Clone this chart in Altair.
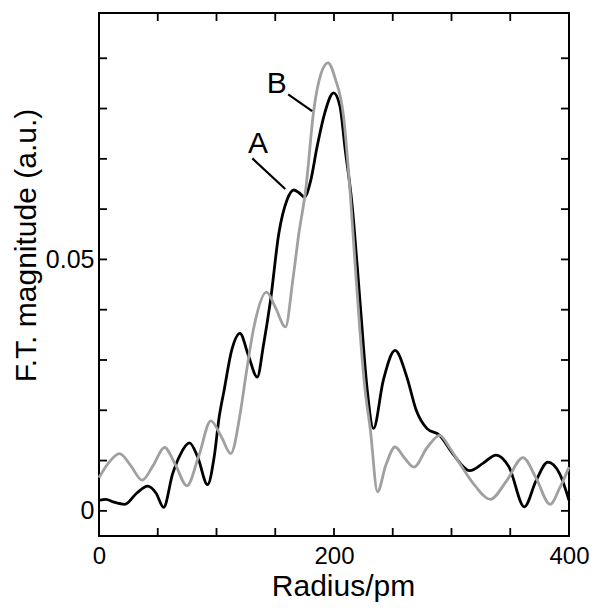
import altair as alt
import pandas as pd

# Curve A (black)
A_x = [0, 6, 12, 22, 32, 41.5, 48.6, 55, 62.7, 69, 77, 84, 92.4, 98, 102.3,
       106.5, 113, 120, 127, 134.7, 140, 146, 153, 160, 165.8, 170, 174.8, 180,
       185.6, 192, 199.7, 205, 209.6, 215.3, 220, 223, 228, 233.6, 242, 252,
       262, 270, 279, 290, 301, 315.5, 327, 338, 349, 362, 372, 382, 392, 400]
A_y = [0.0021, 0.0023, 0.0018, 0.0013, 0.0035, 0.0049, 0.0035, 0.0007, 0.0074,
       0.0111, 0.0135, 0.0107, 0.0052, 0.0107, 0.0187, 0.024, 0.032, 0.0353,
       0.031, 0.0266, 0.033, 0.0419, 0.0551, 0.0618, 0.0638, 0.0633, 0.0624,
       0.0655, 0.0724, 0.079, 0.0831, 0.0805, 0.0717, 0.0611, 0.048, 0.039,
       0.0247, 0.0164, 0.026, 0.0319, 0.0266, 0.020, 0.0164, 0.0150, 0.0114,
       0.008, 0.0095, 0.0111, 0.0087, 0.0008, 0.006, 0.0097, 0.0074, 0.0021]

# Curve B (gray)
B_x = [0, 8, 17.5, 27, 36.7, 46, 55.7, 65, 74.8, 85, 95.2, 104, 112.1, 120.6,
       124.8, 131.9, 142.6, 150, 158.7, 165, 170, 176, 182.8, 189, 194.9, 201,
       208.2, 213.8, 218, 222, 226, 231, 237, 244, 252, 260, 268, 279, 290, 298,
       307, 320, 333, 347, 360.8, 372, 383.9, 392, 400]
B_y = [0.0066, 0.0095, 0.0114, 0.009, 0.0061, 0.009, 0.0126, 0.0092, 0.005,
       0.011, 0.0179, 0.0148, 0.0114, 0.020, 0.0266, 0.0366, 0.0435, 0.0405,
       0.0366, 0.046, 0.055, 0.064, 0.0797, 0.087, 0.0891, 0.086, 0.0783,
       0.0631, 0.049, 0.036, 0.025, 0.016, 0.0038, 0.009, 0.0127, 0.0105,
       0.0087, 0.0125, 0.015, 0.0127, 0.0094, 0.005, 0.0023, 0.006, 0.0106,
       0.0065, 0.0013, 0.0045, 0.0087]

x_ticks = [0, 50, 100, 150, 200, 250, 300, 350, 400]
y_ticks = [0, 0.01, 0.02, 0.03, 0.04, 0.05, 0.06, 0.07, 0.08, 0.09]
x_labels = [0, 200, 400]
y_labels = [0, 0.05]

ann_labels = ["A", "B"]
ann_text_x = [135.4, 151.3]
ann_text_y = [0.0729, 0.0848]
ann_line_x = [130.5, 161.0]
ann_line_y = [0.0701, 0.0828]
ann_line_x2 = [158.5, 181.4]
ann_line_y2 = [0.0640, 0.0795]

W, H = 470, 523
FONT = "Liberation Sans"

xs = alt.Scale(domain=[0, 400], nice=False, zero=False)
ys = alt.Scale(domain=[-0.005, 0.099], nice=False, zero=False)

dfA = pd.DataFrame({"x": A_x, "y": A_y})
dfB = pd.DataFrame({"x": B_x, "y": B_y})

x_axis = alt.Axis(values=x_labels, ticks=False, domain=False, grid=False,
                  labelFontSize=24, labelFont=FONT, labelColor="black",
                  labelPadding=8, labelFlush=False,
                  title="Radius/pm", titleFont=FONT, titleFontSize=30,
                  titleFontWeight="normal", titleColor="black",
                  titleX=244, titleY=59, titleBaseline="alphabetic",
                  titleAlign="center")
y_axis = alt.Axis(values=y_labels, ticks=False, domain=False, grid=False,
                  format="~g",
                  labelFontSize=25, labelFont=FONT, labelColor="black",
                  labelPadding=5, labelFlush=False,
                  title="F.T. magnitude (a.u.)", titleFont=FONT,
                  titleFontSize=30, titleFontWeight="normal",
                  titleColor="black", titleAngle=270,
                  titleX=-64, titleY=232, titleBaseline="alphabetic",
                  titleAlign="center")

X = lambda f: alt.X(f, scale=xs, axis=x_axis)
Y = lambda f: alt.Y(f, scale=ys, axis=y_axis)

lineA = alt.Chart(dfA).mark_line(interpolate="monotone", strokeWidth=2.8,
                                 color="black").encode(x=X("x:Q"), y=Y("y:Q"))
lineB = alt.Chart(dfB).mark_line(interpolate="monotone", strokeWidth=2.8,
                                 color="#a0a0a0").encode(x=X("x:Q"), y=Y("y:Q"))

dfxt = pd.DataFrame({"x": x_ticks})
dfyt = pd.DataFrame({"y": y_ticks})
TL = 8
tick_style = dict(color="black", strokeWidth=1.8)
bt = alt.Chart(dfxt).mark_rule(**tick_style).encode(
    x=X("x:Q"), y=alt.value(H), y2=alt.value(H - TL))
tt = alt.Chart(dfxt).mark_rule(**tick_style).encode(
    x=X("x:Q"), y=alt.value(0), y2=alt.value(TL))
lt = alt.Chart(dfyt).mark_rule(**tick_style).encode(
    y=Y("y:Q"), x=alt.value(0), x2=alt.value(TL))
rt = alt.Chart(dfyt).mark_rule(**tick_style).encode(
    y=Y("y:Q"), x=alt.value(W), x2=alt.value(W - TL))

dftext = pd.DataFrame({"label": ann_labels, "x": ann_text_x, "y": ann_text_y})
dfann = pd.DataFrame({"x": ann_line_x, "y": ann_line_y,
                      "x2": ann_line_x2, "y2": ann_line_y2})
texts = alt.Chart(dftext).mark_text(fontSize=30, font=FONT, color="black",
                                    align="center", baseline="middle").encode(
    x=X("x:Q"), y=Y("y:Q"), text="label:N",
)
ann = alt.Chart(dfann).mark_rule(color="black", strokeWidth=2.2).encode(
    x=X("x:Q"), y=Y("y:Q"), x2="x2:Q", y2="y2:Q",
)

chart = alt.layer(lineA, lineB, bt, tt, lt, rt, ann, texts).properties(
    width=W, height=H,
    autosize=alt.AutoSizeParams(type="none"),
    padding={"left": 91, "top": 5, "right": 21, "bottom": 70},
).configure(background="white").configure_view(stroke="black", strokeWidth=2)

chart.save("out.html", embed_options={"renderer": "svg", "actions": False})
